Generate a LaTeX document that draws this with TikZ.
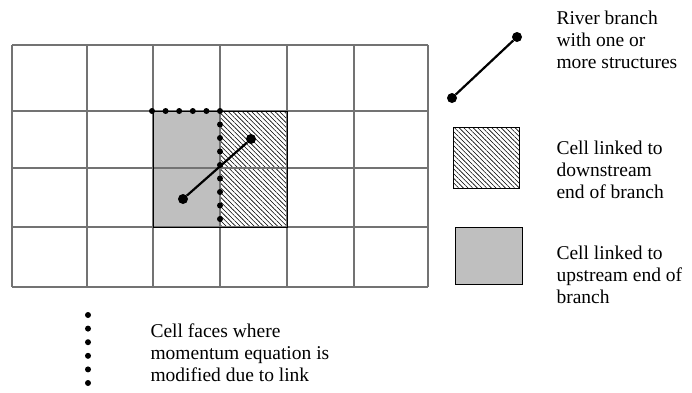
\documentclass[tikz,border=0pt]{standalone}
\usepackage{fontspec}
\setmainfont{Liberation Serif}
\usetikzlibrary{patterns.meta}

\tikzset{
  gridline/.style={draw=black!55, line width=1.2pt},
  upcell/.style={fill=black!25, draw=black, line width=1pt},
  downcell/.style={pattern={Lines[angle=-45,distance=3.3pt,line width=0.6pt]}, draw=black, line width=1pt},
  branch/.style={line width=2.2pt},
  branchend/.style={circle, fill=black, inner sep=0pt, minimum size=10pt},
  legendtext/.style={anchor=west, align=left, font=\fontsize{19.5}{22}\selectfont}
}

\begin{document}
\begin{tikzpicture}[x=1pt, y=-1pt]
  \useasboundingbox (0,0) rectangle (692,392);
  % linked cells
  \fill[black!25] (153,111) rectangle (220,227);
  \fill[pattern={Lines[angle=-45,distance=3.3pt,line width=0.6pt]}] (220,111) rectangle (287,227);
  % grid
  \foreach \x in {12,87,153,220,287,354,428}
    \draw[gridline] (\x,45) -- (\x,287);
  \foreach \y in {45,111,168,227,287}
    \draw[gridline] (12,\y) -- (428,\y);
  \draw[black, line width=1pt] (153,111) rectangle (287,227);
  % river branch
  \node[branchend] (up) at (183,199) {};
  \node[branchend] (down) at (251,139) {};
  \draw[branch] (up) -- (down);
  % modified faces
  \foreach \i in {0,...,5}
    \fill (152+13.6*\i,111) circle (3pt);
  \foreach \i in {1,...,8}
    \fill (220,111+13.5*\i) circle (3pt);

  % legend
  \node[branchend] (lega) at (452,98) {};
  \node[branchend] (legb) at (517,37) {};
  \draw[branch] (lega) -- (legb);
  \node[legendtext] (riv) at (553,40) {River branch\\with one or\\more structures};
  \draw[downcell] (453,127) rectangle (519,188);
  \node[legendtext] (dwn) at (553,170) {Cell linked to\\downstream\\end of branch};
  \draw[upcell] (455,227) rectangle (522,284);
  \node[legendtext] (ups) at (553,275) {Cell linked to\\upstream end of\\branch};
  \foreach \i in {0,...,5}
    \fill (88,315+13.6*\i) circle (3pt);
  \node[legendtext] (fac) at (147,353) {Cell faces where\\momentum equation is\\modified due to link};
\end{tikzpicture}
\end{document}
